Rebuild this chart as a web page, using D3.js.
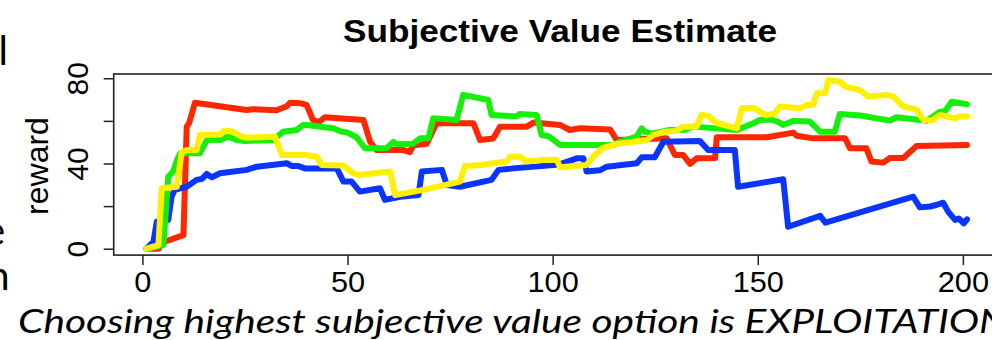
<!DOCTYPE html>
<html>
<head>
<meta charset="utf-8">
<script src="https://cdn.jsdelivr.net/npm/d3@7"></script>
<style>
  html, body { margin: 0; padding: 0; background: #fff; overflow: hidden; }
  svg { display: block; }
</style>
</head>
<body>
<svg id="chart" width="992" height="340"></svg>
<script>
// ---- data ----
const title = "Subjective Value Estimate";
const yLabel = "reward";
const caption = "Choosing highest subjective value option is EXPLOITATION";
const xTicks = [0, 50, 100, 150, 200];
const yTicks = [0, 20, 40, 60, 80];
const yTickLabels = ["0", "", "40", "", "80"];

const redSeries = [[1,0],[4,0],[4.7,2.8],[10,6.4],[10.8,57.3],[11.4,59],[12.8,68.5],[25.4,65.1],[27,65.5],[32.7,65],[35.2,66.9],[36,68.5],[38.4,68.3],[40,67.5],[40.9,63.6],[41.6,60.4],[43,59.4],[44.5,61.7],[53.9,60.4],[55.5,50.2],[57.1,46.3],[63.6,46.3],[65.2,45.3],[66,48.5],[69.3,49.3],[71.7,58.9],[80.7,58.9],[82.3,51],[85.5,51.7],[87.2,57.3],[93.7,57.3],[95.3,59.2],[101.8,58.1],[104.2,55.7],[106.7,56.5],[114,56],[115.6,51],[127.8,51.8],[129.8,44],[131.8,44],[133.5,39.8],[135.1,42.4],[139.6,42.6],[140,52.3],[152.2,52.3],[158.7,54.5],[159.5,53],[163.5,51.8],[171.3,51.8],[172.5,47.1],[176.5,47.1],[177.7,40.9],[180.6,40.4],[182.2,42.6],[185.5,42.6],[188.7,48.2],[201,48.7]];

const blueSeries = [[1,0],[2.7,3.3],[3.5,12.7],[5.1,13.5],[6.3,13.5],[7.1,24.4],[7.9,27.6],[10.8,29.1],[13.2,32.3],[14.5,32.8],[15.7,35.1],[16.9,33.5],[18.9,35.4],[25.4,37],[27.9,38.5],[35.2,40.1],[36.5,38.8],[38,38.8],[39.6,37.7],[47.4,37.7],[49,31.5],[51,31.5],[53,26.8],[57.9,28.4],[59.1,22.9],[62.8,24.4],[67.3,25.2],[68.1,36.2],[73,37],[74.2,29.9],[77.4,29.1],[85.1,32.3],[86.8,37],[90.4,37.7],[100.2,39.3],[102,39.8],[105.9,42.4],[107.5,42.4],[108.3,36.2],[111.5,36.8],[113.2,38.5],[120.5,40.1],[121.7,42.9],[124.9,42.9],[127,50.2],[135.9,50.5],[137.9,46.3],[144.4,46.3],[145.2,29.1],[156.2,32.6],[157.4,10.3],[165.2,15.4],[166.5,12.2],[187.9,24.4],[189.5,19.4],[192,19.8],[193.5,20.5],[195.2,21.6],[196.4,17.4],[198.1,13.5],[199,14.2],[200.2,11.9],[201,13.8]];

const greenSeries = [[1,0],[5.1,1.7],[5.9,22.9],[6.3,33.8],[7.5,36.3],[8.5,42],[9.2,44.8],[14,44.8],[15.7,51],[18.9,51],[20.9,52.6],[23,51],[25,50.6],[31.9,51],[34.3,54.9],[37.6,55.7],[39.2,58.1],[40,58.1],[46.5,56.5],[48.6,54.9],[50,54.5],[52.2,52.3],[54.3,47.1],[59.5,47.1],[61.2,50.2],[62,49],[66,49.3],[67.7,51.8],[69.7,51.8],[70.9,61.2],[76.6,60.4],[78.2,72.2],[84.3,69.8],[85.1,62.8],[91.2,62.1],[92,63.2],[96.1,62.8],[97.3,53.4],[99,52.8],[101.8,48.7],[114.8,48.7],[116.4,50.2],[120.5,52.6],[121.7,56.5],[122.5,54.9],[124,54],[128.6,55.7],[132,55.7],[134.3,57.3],[144.9,55.7],[148.9,58.9],[150.5,60.4],[153,60.7],[155,59.5],[156.2,58.1],[158.7,60],[162.7,59.7],[165.2,54.9],[168.8,54.9],[170,63.2],[175,62.5],[182.2,60.1],[183.8,61.7],[191.2,60.1],[194.4,64.3],[195.5,64.3],[197.3,69],[201,67.8]];

const yellowSeries = [[1,0],[3.9,1.7],[4.7,28.4],[8.4,29.1],[9.6,45.5],[10.8,46.3],[13.2,46.3],[14,53.4],[18.9,53.6],[20.1,55.4],[22,55],[23.8,52.9],[25.4,52.1],[32.3,52.6],[34,44],[40,44],[41.7,43.3],[42.5,43.3],[43.7,39.3],[49,39.1],[51.4,35.4],[52.6,34.6],[60.4,36.2],[61.6,25.2],[68.5,27.6],[77.4,31.5],[78.6,38.8],[82,39.2],[88.8,40.9],[89.6,43.2],[92,43.2],[93.7,40.9],[97.7,41.6],[101,41.8],[101.8,38.2],[108.3,39.3],[109.9,43.2],[112,47.1],[115.6,49.2],[119.7,50.2],[123,51],[124.5,53.4],[127.4,54.9],[130,55.2],[131.8,57.3],[135.1,57.3],[136.3,62.8],[138,62.3],[140,58.9],[144.9,56.5],[146.1,65.9],[148.9,66.2],[151.8,62.8],[154,63.2],[155.4,66.7],[160.3,65.9],[161.9,67.5],[163.5,67.5],[164.4,73],[166.4,73],[167.2,79.2],[170,78.4],[171.3,76.1],[174.9,74.5],[176.9,71.4],[181.4,72.2],[183,71.5],[185.5,66.7],[188.7,65.4],[190.4,60.4],[192.4,60.2],[194.4,62.8],[198.1,61.2],[199,62],[201,62]];

const seriesNames = ["red", "blue", "green", "yellow"];
const seriesData = [redSeries, blueSeries, greenSeries, yellowSeries];
const seriesColors = ["#ff2600", "#0a35ff", "#14f00a", "#fff000"];

// clipped text fragments at the left edge (from an adjacent slide column)
const leftFragments = ["l", "e", "n"];

// ---- drawing ----
const svg = d3.select("#chart");
const plot = { left: 113.7, right: 995.7, top: 74, bottom: 255.1 };

const x = d3.scaleLinear().domain([-7, 208]).range([plot.left, plot.right]);
const y = d3.scaleLinear().domain([-3, 82]).range([plot.bottom, plot.top]);

// title
svg.append("text")
  .attr("x", 560).attr("y", 42)
  .attr("text-anchor", "middle")
  .attr("font-family", "Liberation Sans, Arial, sans-serif")
  .attr("font-weight", "bold")
  .attr("font-size", 32)
  .attr("textLength", 434)
  .attr("lengthAdjust", "spacingAndGlyphs")
  .attr("fill", "#000")
  .text(title);

// lines
const line = d3.line().x(d => x(d[0])).y(d => y(d[1]));
const clip = svg.append("clipPath").attr("id", "plotclip")
  .append("rect")
  .attr("x", plot.left).attr("y", plot.top)
  .attr("width", plot.right - plot.left).attr("height", plot.bottom - plot.top);

svg.append("g").attr("clip-path", "url(#plotclip)")
  .selectAll("path")
  .data(seriesData)
  .join("path")
  .attr("d", line)
  .attr("fill", "none")
  .attr("stroke", (d, i) => seriesColors[i])
  .attr("stroke-width", 6)
  .attr("stroke-linejoin", "round")
  .attr("stroke-linecap", "round");

// box
svg.append("rect")
  .attr("x", plot.left).attr("y", plot.top)
  .attr("width", plot.right - plot.left).attr("height", plot.bottom - plot.top)
  .attr("fill", "none").attr("stroke", "#222").attr("stroke-width", 1.6);

// x axis
const xAxis = svg.append("g")
  .attr("transform", `translate(0,${plot.bottom})`)
  .call(d3.axisBottom(x).tickValues(xTicks).tickSize(10).tickSizeOuter(0).tickPadding(8));
xAxis.select(".domain").remove();
xAxis.selectAll(".tick line").attr("stroke", "#222").attr("stroke-width", 1.5);
xAxis.selectAll(".tick text")
  .attr("font-family", "Liberation Sans, Arial, sans-serif")
  .attr("font-size", 29)
  .attr("fill", "#000")
  .attr("dy", 0)
  .attr("y", 36.6)
  .attr("transform", "scale(1.06,1)");

// y axis
const yAxis = svg.append("g")
  .attr("transform", `translate(${plot.left},0)`)
  .call(d3.axisLeft(y).tickValues(yTicks).tickSize(10).tickSizeOuter(0)
    .tickFormat((d, i) => yTickLabels[i]));
yAxis.select(".domain").remove();
yAxis.selectAll(".tick line").attr("stroke", "#222").attr("stroke-width", 1.5);
yAxis.selectAll(".tick text")
  .attr("font-family", "Liberation Sans, Arial, sans-serif")
  .attr("font-size", 30)
  .attr("fill", "#000")
  .attr("text-anchor", "middle")
  .attr("x", 0).attr("dy", 0)
  .attr("y", -25.7)
  .attr("transform", "rotate(-90)");

// y label
svg.append("text")
  .attr("transform", "translate(48,166) rotate(-90)")
  .attr("text-anchor", "middle")
  .attr("font-family", "Liberation Sans, Arial, sans-serif")
  .attr("font-size", 32)
  .attr("fill", "#000")
  .text(yLabel);

// caption
svg.append("text")
  .attr("x", 18).attr("y", 333)
  .attr("font-family", "Lato, 'Open Sans', sans-serif")
  .attr("font-style", "italic")
  .attr("font-size", 32)
  .attr("textLength", 990)
  .attr("lengthAdjust", "spacingAndGlyphs")
  .attr("fill", "#000")
  .text(caption);

// left-edge fragments
const fragPos = [[8, 65], [5, 245], [9.5, 290]];
svg.append("g").selectAll("text")
  .data(leftFragments)
  .join("text")
  .attr("x", (d, i) => fragPos[i][0])
  .attr("y", (d, i) => fragPos[i][1])
  .attr("text-anchor", "end")
  .attr("font-family", "Lato, 'Open Sans', sans-serif")
  .attr("font-size", 40)
  .attr("fill", "#000")
  .text(d => d);
</script>
</body>
</html>
